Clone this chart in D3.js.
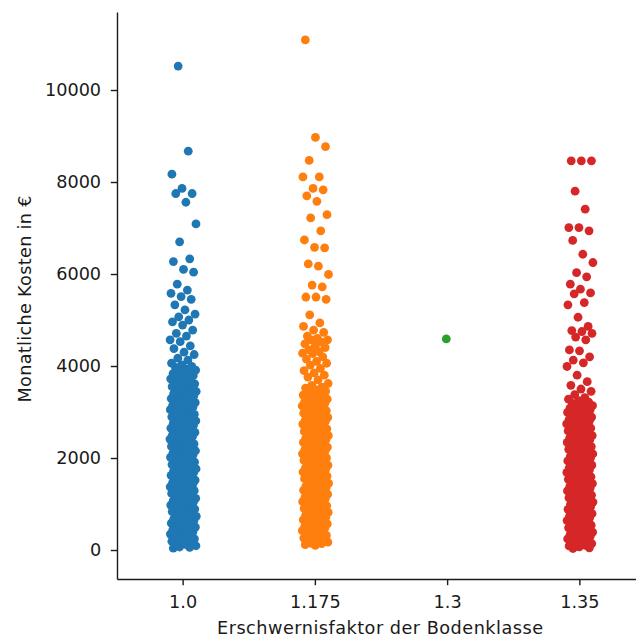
<!DOCTYPE html>
<html><head><meta charset="utf-8">
<script src="https://cdn.jsdelivr.net/npm/d3@7"></script>
<style>
body{margin:0;background:#fff}
svg{display:block}
text{font-family:"DejaVu Sans",sans-serif;fill:#1a1a1a}
</style>
</head><body><svg id="c" width="636" height="639"></svg>
<script>
// ---- data ----
const categories = ["1.0", "1.175", "1.3", "1.35"];
const yTicks = [0, 2000, 4000, 6000, 8000, 10000];
const xLabel = "Erschwernisfaktor der Bodenklasse";
const yLabel = "Monatliche Kosten in €";

// Monatliche Kosten, Faktor 1.0
const cost_1_0_sparse = [10520, 8670, 8170, 7860, 7750, 7750, 7560, 7090, 6700, 6330, 6270, 6100, 6040,
  5780, 5650, 5580, 5510, 5450, 5330, 5220, 5130, 5070, 5000, 4960, 4890, 4780, 4710, 4650, 4570, 4530,
  4440, 4380, 4300, 4250, 4170, 4130];
const cost_1_0_dense = [41, 58, 66, 93, 120, 127, 152, 181, 189, 207, 236, 244, 262, 290, 301, 318, 347, 352,
  377, 395, 410, 438, 446, 470, 497, 503, 526, 555, 561, 583, 609, 622, 638, 667, 674, 699, 718, 733, 751,
  779, 786, 810, 836, 845, 863, 891, 902, 919, 947, 953, 978, 1003, 1011, 1036, 1060, 1071, 1090, 1118,
  1124, 1149, 1172, 1183, 1204, 1231, 1238, 1262, 1289, 1296, 1317, 1343, 1352, 1374, 1398, 1410, 1429,
  1455, 1463, 1486, 1512, 1520, 1541, 1567, 1578, 1596, 1624, 1631, 1655, 1681, 1689, 1710, 1736, 1747,
  1765, 1793, 1800, 1823, 1849, 1858, 1877, 1904, 1913, 1934, 1960, 1969, 1991, 2016, 2027, 2046, 2073,
  2081, 2104, 2129, 2140, 2158, 2186, 2193, 2217, 2242, 2253, 2271, 2299, 2306, 2330, 2355, 2366, 2384,
  2412, 2419, 2443, 2468, 2480, 2497, 2525, 2533, 2556, 2582, 2594, 2611, 2638, 2648, 2669, 2695, 2708,
  2724, 2751, 2762, 2782, 2808, 2822, 2837, 2865, 2876, 2895, 2921, 2936, 2950, 2978, 2990, 3008, 3034,
  3050, 3064, 3092, 3104, 3121, 3147, 3164, 3178, 3205, 3218, 3236, 3260, 3278, 3292, 3319, 3332, 3351,
  3374, 3393, 3407, 3434, 3446, 3467, 3489, 3510, 3522, 3551, 3566, 3590, 3612, 3629, 3655, 3678, 3694,
  3721, 3746, 3760, 3789, 3815, 3833, 3858, 3889, 3910, 3937, 3968, 3991, 4024, 4062];

// Faktor 1.175
const cost_1_175_sparse = [11090, 8970, 8770, 8470, 8110, 8110, 7860, 7830, 7700, 7580, 7290, 7220, 6940,
  6740, 6580, 6570, 6220, 6170, 5990, 5760, 5720, 5500, 5500, 5450, 5110, 4940, 4860, 4780, 4730, 4650,
  4600, 4570, 4570, 4520, 4480, 4430, 4400, 4350, 4310, 4280, 4270, 4200, 4150, 4100, 4060, 4020, 3950,
  3900, 3850, 3800, 3760, 3700, 3620, 3580, 3540, 3520, 3480, 3450];
const cost_1_175_dense = [102, 117, 139, 146, 171, 196, 203, 228, 251, 259, 284, 307, 318, 339, 364, 372,
  396, 420, 431, 452, 477, 486, 509, 533, 542, 566, 590, 599, 623, 646, 657, 679, 704, 713, 736, 760, 770,
  792, 817, 826, 849, 873, 883, 905, 930, 939, 962, 986, 996, 1018, 1043, 1052, 1075, 1099, 1109, 1131,
  1156, 1165, 1188, 1212, 1222, 1244, 1269, 1278, 1301, 1325, 1335, 1357, 1382, 1391, 1414, 1438, 1448,
  1470, 1495, 1504, 1527, 1551, 1561, 1583, 1608, 1617, 1640, 1664, 1674, 1696, 1721, 1730, 1753, 1777,
  1787, 1809, 1834, 1843, 1866, 1890, 1900, 1922, 1947, 1956, 1979, 2003, 2013, 2035, 2060, 2069, 2092,
  2116, 2126, 2148, 2173, 2182, 2205, 2229, 2239, 2261, 2286, 2295, 2318, 2342, 2352, 2374, 2399, 2408,
  2431, 2455, 2465, 2487, 2512, 2521, 2544, 2568, 2578, 2600, 2625, 2634, 2657, 2681, 2691, 2713, 2738,
  2747, 2770, 2794, 2804, 2826, 2851, 2860, 2883, 2907, 2917, 2939, 2964, 2973, 2996, 3020, 3030, 3052,
  3077, 3086, 3109, 3133, 3143, 3165, 3190, 3199, 3222, 3246, 3256, 3278, 3303, 3312, 3335, 3359, 3369,
  3391, 3416];

// Faktor 1.3
const cost_1_3_sparse = [4590];
const cost_1_3_dense = [];

// Faktor 1.35
const cost_1_35_sparse = [8460, 8460, 8460, 7800, 7410, 7010, 7010, 6940, 6730, 6430, 6250, 6030, 5940,
  5780, 5670, 5590, 5570, 5380, 5330, 5060, 4860, 4770, 4750, 4710, 4630, 4570, 4350, 4330, 4200, 4130,
  4070, 3990, 3800, 3660, 3580, 3500, 3450, 3380];
const cost_1_35_dense = [33, 47, 70, 88, 101, 126, 141, 160, 183, 195, 218, 240, 254, 275, 298, 310, 333,
  355, 368, 389, 412, 425, 447, 469, 483, 504, 527, 540, 562, 584, 597, 619, 641, 655, 676, 699, 712, 733,
  756, 769, 791, 813, 826, 848, 870, 884, 905, 928, 941, 963, 985, 998, 1020, 1042, 1056, 1077, 1100,
  1113, 1135, 1157, 1170, 1192, 1214, 1228, 1249, 1272, 1285, 1307, 1329, 1342, 1364, 1386, 1400, 1421,
  1444, 1457, 1479, 1501, 1514, 1536, 1558, 1572, 1593, 1616, 1629, 1651, 1673, 1686, 1708, 1730, 1744,
  1765, 1788, 1801, 1823, 1845, 1858, 1880, 1902, 1916, 1937, 1960, 1973, 1995, 2017, 2030, 2052, 2074,
  2088, 2109, 2132, 2145, 2167, 2189, 2202, 2224, 2246, 2260, 2281, 2304, 2317, 2339, 2361, 2374, 2396,
  2418, 2432, 2453, 2476, 2489, 2511, 2533, 2546, 2568, 2590, 2604, 2625, 2648, 2661, 2683, 2705, 2718,
  2740, 2762, 2776, 2797, 2820, 2833, 2855, 2877, 2890, 2912, 2934, 2948, 2969, 2992, 3005, 3027, 3049,
  3062, 3084, 3106, 3120, 3141, 3166, 3190, 3215, 3248, 3280, 3315];

const seriesValues = [
  cost_1_0_dense.concat(cost_1_0_sparse),
  cost_1_175_dense.concat(cost_1_175_sparse),
  cost_1_3_dense.concat(cost_1_3_sparse),
  cost_1_35_dense.concat(cost_1_35_sparse)
];

// ---- styling / layout ----
const palette = ["#1f77b4", "#ff7f0e", "#2ca02c", "#d62728"];
const yDomain = [-630, 11696];
const plot = {left: 117, right: 646, top: 12, bottom: 579};
const fontPx = 17.67, tickLen = 6.2, lineW = 1.4, markerR = 4.4, jitterFrac = 0.1;

const svg = d3.select("#c");
const x = d3.scaleBand().domain(categories).range([plot.left, plot.right]).padding(0);
const y = d3.scaleLinear().domain(yDomain).range([plot.bottom, plot.top]);

// points (stripplot with deterministic jitter)
const pts = [];
seriesValues.forEach((vals, g) => {
  const sorted = vals.slice().sort((a, b) => a - b);
  sorted.forEach((v, k) => {
    const u = ((k * 0.6180339887 + 0.37 * g + 0.13) % 1);
    const j = sorted.length === 1 ? -0.1 : (u - 0.5) * 2;
    pts.push({cat: categories[g], g, v, j});
  });
});
svg.append("g").selectAll("circle").data(pts).join("circle")
  .attr("cx", d => x(d.cat) + x.bandwidth() / 2 + d.j * jitterFrac * x.bandwidth())
  .attr("cy", d => y(d.v))
  .attr("r", markerR)
  .attr("fill", d => palette[d.g]);

// axes
const gy = svg.append("g").attr("transform", `translate(${plot.left},0)`)
  .call(d3.axisLeft(y).tickValues(yTicks).tickSize(tickLen).tickPadding(tickLen + 3.5).tickSizeOuter(0).tickFormat(d3.format("d")));
const gx = svg.append("g").attr("transform", `translate(0,${plot.bottom})`)
  .call(d3.axisBottom(x).tickSize(tickLen).tickSizeOuter(0));
[gx, gy].forEach(g => {
  g.attr("font-family", null).attr("font-size", null);
  g.selectAll("path,line").attr("stroke", "#1a1a1a").attr("stroke-width", lineW);
  g.selectAll("text").attr("font-size", fontPx + "px").attr("fill", "#1a1a1a");
});
gx.selectAll("text").attr("y", 29).attr("dy", 0);

svg.append("text").attr("x", 380).attr("y", 634)
  .attr("text-anchor", "middle").attr("font-size", fontPx + "px")
  .attr("textLength", 326).attr("lengthAdjust", "spacing").text(xLabel);
svg.append("text").attr("transform", `translate(31,299) rotate(-90)`)
  .attr("text-anchor", "middle").attr("font-size", fontPx + "px")
  .attr("textLength", 207).attr("lengthAdjust", "spacing").text(yLabel);
</script>
</body></html>
